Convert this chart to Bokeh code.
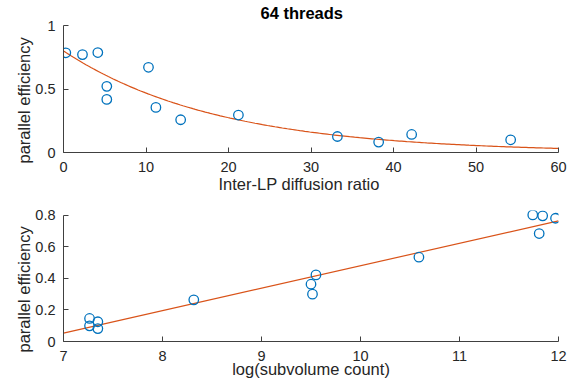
import numpy as np
from bokeh.plotting import figure
from bokeh.layouts import column
from bokeh.models import Range1d, FixedTicker, Title
from bokeh.embed import file_html
from bokeh.resources import INLINE

# ---- data: top panel ----
diffusion_ratio = [0.28, 2.3, 4.16, 10.3, 5.25, 5.25, 11.2, 14.2, 21.2, 33.2, 38.2, 42.2, 54.2]
eff_top = [0.785, 0.771, 0.787, 0.671, 0.521, 0.418, 0.355, 0.258, 0.295, 0.126, 0.082, 0.142, 0.100]
exp_fit_a = 0.80
exp_fit_b = 0.0536
top_xticks = [0, 10, 20, 30, 40, 50, 60]
top_yticks = [0, 0.5, 1]

# ---- data: bottom panel ----
log_subvol = [7.263, 7.263, 7.347, 7.347, 8.316, 9.55, 9.50, 9.515, 10.59, 11.74, 11.84, 11.97, 11.805]
eff_bottom = [0.146, 0.099, 0.125, 0.082, 0.264, 0.422, 0.363, 0.300, 0.534, 0.802, 0.796, 0.781, 0.684]
lin_fit_slope = 0.1422
lin_fit_intercept = -0.942
bot_xticks = [7, 8, 9, 10, 11, 12]
bot_yticks = [0, 0.2, 0.4, 0.6, 0.8]

FONT = "Liberation Sans"
TXT = "#262626"
AXC = "#404040"
BLUE = "#0072BD"
ORANGE = "#D95319"


def style(p, xticks, yticks, ybounds):
    p.outline_line_color = None
    p.xgrid.visible = False
    p.ygrid.visible = False
    for ax in (p.xaxis[0], p.yaxis[0]):
        ax.axis_line_color = AXC
        ax.axis_line_width = 1
        ax.major_tick_line_color = AXC
        ax.major_tick_in = 5
        ax.major_tick_out = 0
        ax.minor_tick_line_color = None
        ax.major_label_text_font = FONT
        ax.major_label_text_font_size = "14.5px"
        ax.major_label_text_color = TXT
        ax.axis_label_text_font = FONT
        ax.axis_label_text_font_size = "16.5px"
        ax.axis_label_text_font_style = "normal"
        ax.axis_label_text_color = TXT
    p.xaxis[0].ticker = FixedTicker(ticks=xticks)
    p.yaxis[0].ticker = FixedTicker(ticks=yticks)
    p.yaxis[0].bounds = ybounds
    p.xaxis[0].major_label_overrides = {t: f"{t:g}" for t in xticks}
    p.yaxis[0].major_label_overrides = {t: f"{t:g}" for t in yticks}
    p.xaxis[0].major_label_standoff = 9
    p.yaxis[0].major_label_standoff = 8


def label(text, align="left", offset=0, standoff=0, bold=False, valign="bottom"):
    return Title(text=text, align=align, offset=offset, standoff=standoff,
                 vertical_align=valign, text_font=FONT, text_font_size="16.5px",
                 text_font_style="bold" if bold else "normal",
                 text_color="#000000" if bold else TXT)


# ---- top figure ----
p1 = figure(width=584, height=197, output_backend="svg", toolbar_location=None,
            x_range=Range1d(0, 60), y_range=Range1d(0, 1),
            min_border_left=63, min_border_right=26, min_border_top=25, min_border_bottom=45)
style(p1, top_xticks, top_yticks, (0, 1))
p1.title = label("64 threads", offset=197, standoff=4, bold=True, valign="top")
p1.add_layout(label("Inter-LP diffusion ratio", offset=155, valign="top"), "below")
p1.add_layout(label("parallel efficiency", offset=-11, standoff=0), "left")

xs_fit = np.linspace(0, 60, 200)
p1.line(xs_fit, exp_fit_a * np.exp(-exp_fit_b * xs_fit), line_color=ORANGE, line_width=1.2)
p1.scatter(diffusion_ratio, eff_top, marker="circle", size=9.5, fill_color=None,
           line_color=BLUE, line_width=1.3)

# ---- bottom figure ----
p2 = figure(width=584, height=190, output_backend="svg", toolbar_location=None,
            x_range=Range1d(7, 12), y_range=Range1d(0, 0.83),
            min_border_left=63, min_border_right=26, min_border_top=13, min_border_bottom=46)
style(p2, bot_xticks, bot_yticks, (0, 0.8))
p2.xaxis[0].axis_label = "log(subvolume count)"
p2.xaxis[0].axis_label_standoff = -4
p2.add_layout(label("parallel efficiency", offset=-11, standoff=0), "left")

xl = np.array([7.0, 12.0])
p2.line(xl, lin_fit_slope * xl + lin_fit_intercept, line_color=ORANGE, line_width=1.2)
p2.scatter(log_subvol, eff_bottom, marker="circle", size=9.5, fill_color=None,
           line_color=BLUE, line_width=1.3)

layout = column(p1, p2, spacing=0)
open("out.html", "w").write(file_html(layout, INLINE))
